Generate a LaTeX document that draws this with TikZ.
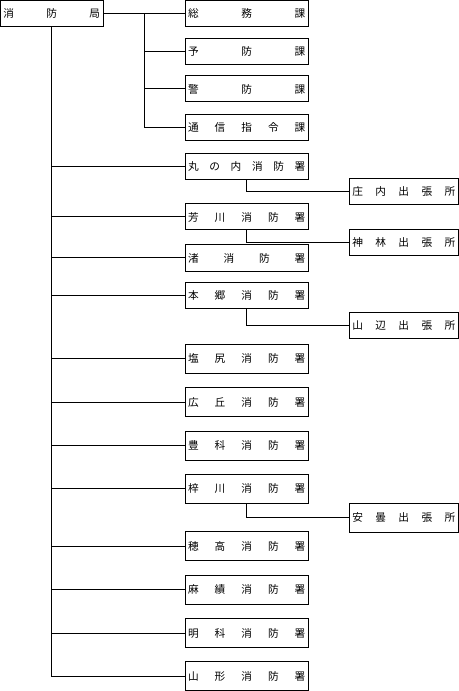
\documentclass[tikz,border=0pt]{standalone}
\usepackage{fontspec}
\setmainfont{Noto Sans CJK JP}
\usepackage{tikz}
\usetikzlibrary{positioning}

\tikzset{
  unit/.style={draw, line width=0.75pt, inner xsep=2.25pt, inner ysep=0pt, font=\fontsize{8}{9.6}\selectfont},
  hqbox/.style={unit, text width=72.4pt, minimum height=19.9pt},
  kabox/.style={unit, text width=88pt, minimum height=19.5pt},
  shobox/.style={unit, text width=88pt, minimum height=#1},
  shobox/.default=19.5pt,
  dembox/.style={unit, text width=77.25pt, minimum height=#1},
  dembox/.default=19.5pt,
  line/.style={line width=0.75pt}
}
\newcommand{\spread}[1]{\makebox[\linewidth]{#1}}

\begin{document}
\begin{tikzpicture}[x=0.75pt,y=0.75pt,yscale=-1,xscale=1]
\useasboundingbox (0,0) rectangle (459,691);

% Headquarters
\node [hqbox] (hq) at (51.75,13.7) {\spread{消\hfill 防\hfill 局}};

% Sections
\node [kabox] (soumu) at (246.7,13.7) {\spread{総\hfill 務\hfill 課}};
\node [kabox] (yobou) at (246.7,51.3) {\spread{予\hfill 防\hfill 課}};
\node [kabox] (keibou) at (246.7,89) {\spread{警\hfill 防\hfill 課}};
\node [kabox] (tsushin) at (246.7,127.7) {\spread{通\hfill 信\hfill 指\hfill 令\hfill 課}};

% Fire stations
\node [shobox] (marunouchi) at (246.7,166.3) {\spread{丸\hfill の\hfill 内\hfill 消\hfill 防\hfill 署}};
\node [shobox] (yoshikawa) at (246.7,217) {\spread{芳\hfill 川\hfill 消\hfill 防\hfill 署}};
\node [shobox] (nagisa) at (246.7,258) {\spread{渚\hfill 消\hfill 防\hfill 署}};
\node [shobox] (hongo) at (246.7,295.7) {\spread{本\hfill 郷\hfill 消\hfill 防\hfill 署}};
\node [shobox=21.75pt] (shiojiri) at (246.7,358.8) {\spread{塩\hfill 尻\hfill 消\hfill 防\hfill 署}};
\node [shobox=21.75pt] (hirooka) at (246.7,402.2) {\spread{広\hfill 丘\hfill 消\hfill 防\hfill 署}};
\node [shobox=21.75pt] (toyoshina) at (246.7,445.5) {\spread{豊\hfill 科\hfill 消\hfill 防\hfill 署}};
\node [shobox=21.75pt] (azusagawa) at (246.7,488.8) {\spread{梓\hfill 川\hfill 消\hfill 防\hfill 署}};
\node [shobox=21.75pt] (hotaka) at (246.7,546) {\spread{穂\hfill 高\hfill 消\hfill 防\hfill 署}};
\node [shobox=21.75pt] (omi) at (246.7,589.8) {\spread{麻\hfill 績\hfill 消\hfill 防\hfill 署}};
\node [shobox=21.75pt] (akashina) at (246.7,633) {\spread{明\hfill 科\hfill 消\hfill 防\hfill 署}};
\node [shobox=21.75pt] (yamagata) at (246.7,676.2) {\spread{山\hfill 形\hfill 消\hfill 防\hfill 署}};

% Branch offices
\node [dembox] (shonai) at (403.8,191.3) {\spread{庄\hfill 内\hfill 出\hfill 張\hfill 所}};
\node [dembox] (kanbayashi) at (403.8,242.2) {\spread{神\hfill 林\hfill 出\hfill 張\hfill 所}};
\node [dembox] (yamabe) at (403.8,325.5) {\spread{山\hfill 辺\hfill 出\hfill 張\hfill 所}};
\node [dembox=21.75pt] (azumi) at (403.8,517.8) {\spread{安\hfill 曇\hfill 出\hfill 張\hfill 所}};

% Section connectors
\coordinate (fork) at (144.3,13.7);
\draw [line] (hq.east) -- (soumu.west);
\draw [line] (fork) |- (tsushin.west);
\draw [line] (fork |- yobou.west) -- (yobou.west);
\draw [line] (fork |- keibou.west) -- (keibou.west);

% Station connectors
\draw [line] (hq.south) |- (yamagata.west);
\draw [line] (hq.south |- marunouchi.west) -- (marunouchi.west);
\draw [line] (hq.south |- yoshikawa.west) -- (yoshikawa.west);
\draw [line] (hq.south |- nagisa.west) -- (nagisa.west);
\draw [line] (hq.south |- hongo.west) -- (hongo.west);
\draw [line] (hq.south |- shiojiri.west) -- (shiojiri.west);
\draw [line] (hq.south |- hirooka.west) -- (hirooka.west);
\draw [line] (hq.south |- toyoshina.west) -- (toyoshina.west);
\draw [line] (hq.south |- azusagawa.west) -- (azusagawa.west);
\draw [line] (hq.south |- hotaka.west) -- (hotaka.west);
\draw [line] (hq.south |- omi.west) -- (omi.west);
\draw [line] (hq.south |- akashina.west) -- (akashina.west);

% Branch office connectors
\draw [line] (marunouchi.south) |- (shonai.west);
\draw [line] (yoshikawa.south) |- (kanbayashi.west);
\draw [line] (hongo.south) |- (yamabe.west);
\draw [line] (azusagawa.south) |- (azumi.west);

\end{tikzpicture}
\end{document}
